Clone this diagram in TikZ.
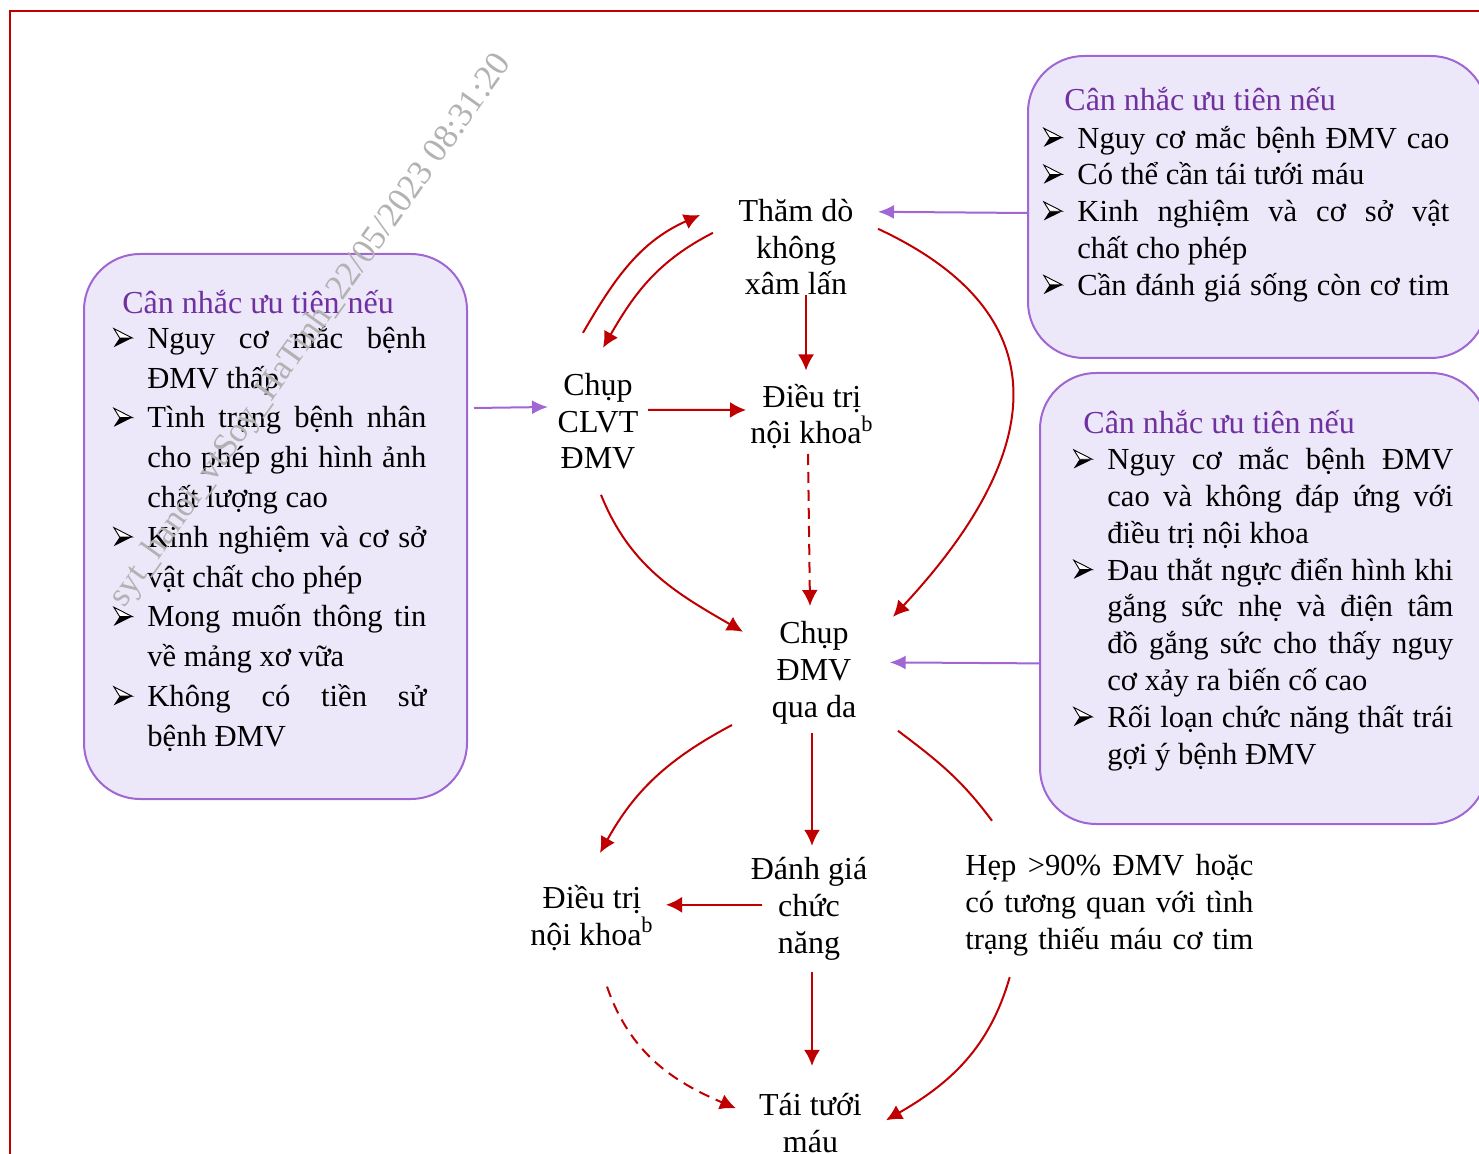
\documentclass[tikz,border=0pt]{standalone}
\usepackage{fontspec}
\setmainfont{Liberation Serif}
\usetikzlibrary{arrows.meta}

\definecolor{boxline}{HTML}{A066D3}
\definecolor{boxfill}{HTML}{ECE8F9}
\definecolor{titlecol}{HTML}{7030A0}
\definecolor{arrowred}{HTML}{C00000}

\newcommand{\st}{\rule{0pt}{17.6pt}}
\newcommand{\bul}{\tikz[x=1pt,y=1pt,baseline=0pt,line width=0.45pt]{%
  \fill[black] (0,0.6) -- (9.3,5.2) -- (3,5.2) -- cycle;
  \draw[black,fill=white,line join=miter] (0.1,9.9) -- (9.3,5.2) -- (3,5.2) -- cycle;}}
\newcommand{\js}[1]{\makebox[\hsize][s]{#1}}
\newcommand{\jl}[1]{\makebox[\dimexpr\hsize-17pt\relax][s]{#1}}
\newcommand{\itm}[1]{\noindent\hangindent=17pt\hangafter=1\st\makebox[17pt][l]{\bul}#1\par}
% khoi van ban: rong, khoang dong, noi dung
\newcommand{\listpar}[3]{\parbox[t]{#1}{\fontsize{15.3}{#2}\selectfont
  \lineskiplimit=-100pt\spaceskip=0pt\xspaceskip=0pt\rightskip=0pt\leftskip=0pt #3}}

\begin{document}
\begin{tikzpicture}[x=0.5pt,y=0.5pt,
  txt/.style={align=center,inner sep=0pt,anchor=north,font={\fontsize{16}{18.4}\selectfont\lineskiplimit=-100pt}},
  listbox/.style={rectangle,draw=boxline,fill=boxfill,line width=1pt,rounded corners=28pt,anchor=north west},
  titletxt/.style={inner sep=0pt,anchor=north west,text=titlecol,font={\fontsize{16}{18.4}\selectfont}},
  listtxt/.style={inner sep=0pt,anchor=north west},
  redarr/.style={draw=arrowred,line width=1pt,-{Latex[length=8pt,width=8pt]}},
  redline/.style={draw=arrowred,line width=1pt},
  purplearr/.style={draw=boxline,line width=1pt,-{Latex[length=8pt,width=7pt]}}]
\useasboundingbox (0,0) rectangle (1479,1153);
\clip (0,0) rectangle (1479,1153);
% khung
\draw[arrowred,line width=1.3pt] (10,-5) -- (10,1142) -- (1490,1142);
% cac hop dieu kien
\node[listbox,minimum width=191.5pt,minimum height=272.5pt] (boxL) at (83,900) {};
\node[listbox,minimum width=229.5pt,minimum height=151pt] (boxTR) at (1027,1098) {};
\node[listbox,minimum width=223.5pt,minimum height=225.5pt] (boxBR) at (1039,781) {};
\node[titletxt] (titL) at (122,875.2) {\st Cân nhắc ưu tiên nếu};
\node[titletxt] (titTR) at (1064,1078.2) {\st Cân nhắc ưu tiên nếu};
\node[titletxt] (titBR) at (1083,755.2) {\st Cân nhắc ưu tiên nếu};
\node[listtxt] (listL) at (113,840.2) {\listpar{156.5pt}{19.9pt}{%
\itm{\jl{Nguy cơ mắc bệnh}\\ĐMV thấp}
\itm{\jl{Tình trạng bệnh nhân}\\\jl{cho phép ghi hình ảnh}\\chất lượng cao}
\itm{\jl{Kinh nghiệm và cơ sở}\\vật chất cho phép}
\itm{\jl{Mong muốn thông tin}\\về mảng xơ vữa}
\itm{\jl{Không có tiền sử}\\bệnh ĐMV}}};
\node[listtxt] (listTR) at (1043,1040.5) {\listpar{203pt}{18.4pt}{%
\itm{\jl{Nguy cơ mắc bệnh ĐMV cao}}
\itm{Có thể cần tái tưới máu}
\itm{\jl{Kinh nghiệm và cơ sở vật}\\chất cho phép}
\itm{\jl{Cần đánh giá sống còn cơ tim}}}};
\node[listtxt] (listBR) at (1073,718.9) {\listpar{190pt}{18.4pt}{%
\itm{\jl{Nguy cơ mắc bệnh ĐMV}\\\jl{cao và không đáp ứng với}\\điều trị nội khoa}
\itm{\jl{Đau thắt ngực điển hình khi}\\\jl{gắng sức nhẹ và điện tâm}\\\jl{đồ gắng sức cho thấy nguy}\\cơ xảy ra biến cố cao}
\itm{\jl{Rối loạn chức năng thất trái}\\gợi ý bệnh ĐMV}}};
% cac buoc
\node[txt] (thamdo) at (796,967.2) {\st Thăm dò\\không\\xâm lấn};
\node[txt] (clvt) at (598,793.2) {\st Chụp\\CLVT\\ĐMV};
\node[txt] (noikhoaA) at (812,781.5) {\st Điều trị\\nội khoa\textsuperscript{b}};
\node[txt] (quada) at (814,545.2) {\st Chụp\\ĐMV\\qua da};
\node[txt] (noikhoaB) at (592,280.2) {\st Điều trị\\nội khoa\textsuperscript{b}};
\node[txt] (danhgia) at (809,309.2) {\st Đánh giá\\chức\\năng};
\node[listtxt] (hep) at (965,313.2) {\listpar{144pt}{18.4pt}{\noindent\st\js{Hẹp >90\% ĐMV hoặc}\\\js{có tương quan với tình}\\\js{trạng thiếu máu cơ tim}}};
\node[txt] (taituoi) at (810.5,73.2) {\st Tái tưới\\máu};
% mui ten phan tren
\draw[redarr] ([shift={(-15,27)}]clvt.north) to[out=60,in=204] ([shift={(-96,-29.2)}]thamdo.north);
\draw[redarr] ([shift={(-83,-47)}]thamdo.north) to[out=207,in=60] ([shift={(5,12)}]clvt.north);
\draw[redarr] ([shift={(10,-109)}]thamdo.north) -- ([shift={(-6,1)}]noikhoaA.north);
\draw[redarr] ([shift={(50,-50)}]clvt.north) -- ([shift={(-66,-38.5)}]noikhoaA.north);
\draw[redarr,dash pattern=on 5.5pt off 3.5pt] ([shift={(-4,-82.5)}]noikhoaA.north) -- ([shift={(-4,1.8)}]quada.north);
\draw[redarr] ([shift={(82,-43)}]thamdo.north) to[out=-25,in=47,looseness=1.4] ([shift={(79,-9)}]quada.north);
\draw[redarr] ([shift={(3,-135)}]clvt.north) to[out=-68,in=150] ([shift={(-71,-24)}]quada.north);
\draw[purplearr] ([shift={(0,-6)}]boxTR.west) -- ([shift={(82,-26)}]thamdo.north);
\draw[purplearr] ([shift={(6,118.5)}]boxL.east) -- ([shift={(-50,-47.2)}]clvt.north);
\draw[purplearr] ([shift={(0,-64.9)}]boxBR.west) -- ([shift={(75.7,-54.6)}]quada.north);
% mui ten phan duoi
\draw[redarr] ([shift={(-82,-117.2)}]quada.north) to[out=208,in=61] ([shift={(8,19.8)}]noikhoaB.north);
\draw[redarr] ([shift={(-2,-125)}]quada.north) -- ([shift={(3,-2)}]danhgia.north);
\draw[redline] ([shift={(84,-123)}]quada.north) to[out=-37,in=126.5] ([shift={(27,19)}]hep.north west);
\draw[redarr] ([shift={(-47,-61)}]danhgia.north) -- ([shift={(74,-32)}]noikhoaB.north);
\draw[redarr] ([shift={(3,-127.8)}]danhgia.north) -- ([shift={(1.5,13.9)}]taituoi.north);
\draw[redarr,dash pattern=on 5.5pt off 3.5pt] ([shift={(15,-113.8)}]noikhoaB.north) to[out=-71,in=157] ([shift={(-74.5,-28.5)}]taituoi.north);
\draw[redarr] ([shift={(44.7,-137.4)}]hep.north west) to[out=254,in=30] ([shift={(75.5,-40.5)}]taituoi.north);
% dau nhan
\node[rotate=54.6,text=black!30,inner sep=0pt,font={\fontsize{17.5}{17.5}\selectfont}] (wm) at (311.5,822) {syt\_hanoi\_vtSoy\_HaTinh\_22/05/2023 08:31:20};
\end{tikzpicture}
\end{document}
